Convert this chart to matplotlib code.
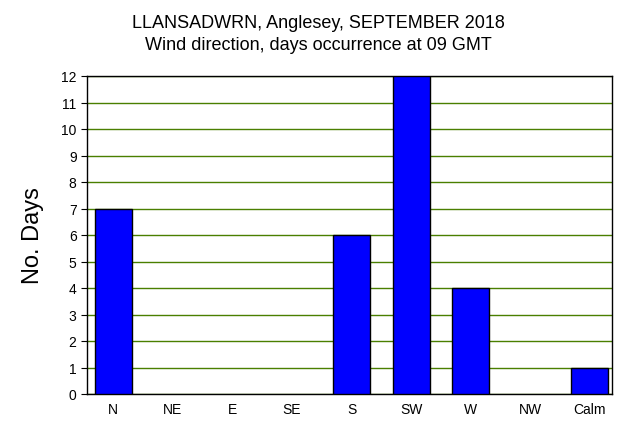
import matplotlib
matplotlib.use("Agg")
import matplotlib.pyplot as plt

categories = ["N", "NE", "E", "SE", "S", "SW", "W", "NW", "Calm"]
days = [7, 0, 0, 0, 6, 12, 4, 0, 1]

plt.rcParams['font.family'] = ['Liberation Sans', 'DejaVu Sans']
fig = plt.figure(figsize=(6.37, 4.31), dpi=100)
ax = fig.add_axes([87/637, 1-395/431, (612-87)/637, (395-77)/431])
x = list(range(len(categories)))
lws = [1 if d > 0 else 0 for d in days]
ax.bar(x, days, width=0.62, color="#0000ff", edgecolor="black", linewidth=lws, zorder=3)
ax.set_xlim(-0.44, 8.37)
ax.set_ylim(0, 12)
ax.set_yticks(range(0, 13))
ax.set_xticks(x)
ax.set_xticklabels(categories)
ax.yaxis.grid(True, color="#4a7f00", linewidth=1, zorder=0)
ax.tick_params(axis='x', length=0, labelsize=10, pad=6)
ax.tick_params(axis='y', length=4, labelsize=10, direction='out')
for s in ax.spines.values():
    s.set_linewidth(1)
ax.set_ylabel("No. Days", fontsize=17, labelpad=12)
fig.text(0.5, 0.945, "LLANSADWRN, Anglesey, SEPTEMBER 2018", ha='center', va='center', fontsize=13)
fig.text(0.5, 0.895, "Wind direction, days occurrence at 09 GMT", ha='center', va='center', fontsize=13)
fig.savefig("out.png", dpi=100)
